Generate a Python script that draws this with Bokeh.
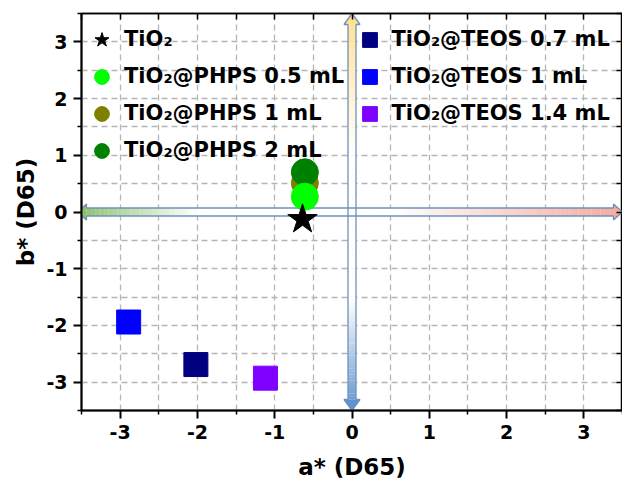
import numpy as np
from bokeh.plotting import figure
from bokeh.models import Range1d, FixedTicker, LinearAxis, Legend, LegendItem
from bokeh.embed import file_html
from bokeh.resources import INLINE

# ---- data ----
names = ["TiO₂", "TiO₂@PHPS 0.5 mL", "TiO₂@PHPS 1 mL", "TiO₂@PHPS 2 mL",
         "TiO₂@TEOS 0.7 mL", "TiO₂@TEOS 1 mL", "TiO₂@TEOS 1.4 mL"]
a_star = [-0.64, -0.61, -0.61, -0.61, -2.02, -2.89, -1.12]
b_star = [-0.13, 0.27, 0.51, 0.70, -2.69, -1.94, -2.93]
colors = ["#000000", "#00ff00", "#808000", "#008000", "#000080", "#0000ff", "#8000ff"]
markers = ["star", "circle", "circle", "circle", "square", "square", "square"]
draw_order = [2, 3, 1, 0, 4, 5, 6]
x_ticks = [-3, -2, -1, 0, 1, 2, 3]
y_ticks = [-3, -2, -1, 0, 1, 2, 3]
tick_labels = ["-3", "-2", "-1", "0", "1", "2", "3"]
minor_ticks = [-3.5, -2.5, -1.5, -0.5, 0.5, 1.5, 2.5, 3.5]
x_range = (-3.5, 3.5)
y_range = (-3.5, 3.5)

FONT = "DejaVu Sans"

p = figure(width=622, height=483, output_backend="svg", toolbar_location=None,
           x_range=Range1d(*x_range), y_range=Range1d(*y_range),
           min_border_left=81, min_border_right=0, min_border_top=13, min_border_bottom=73)
p.background_fill_color = "white"
p.border_fill_color = "white"
p.outline_line_color = "black"
p.outline_line_width = 1.5

xt = FixedTicker(ticks=x_ticks, minor_ticks=minor_ticks)
yt = FixedTicker(ticks=y_ticks, minor_ticks=minor_ticks)

for ax, t, tv in ((p.xaxis[0], xt, x_ticks), (p.yaxis[0], yt, y_ticks)):
    ax.ticker = t
    ax.major_label_overrides = {v: s for v, s in zip(tv, tick_labels)}
    ax.axis_line_width = 2
    ax.axis_line_color = "black"
    ax.major_tick_line_width = 2
    ax.minor_tick_line_width = 1.5
    ax.major_tick_in = 0
    ax.minor_tick_in = 0
    ax.major_tick_out = 8
    ax.minor_tick_out = 4
    ax.major_label_text_font = FONT
    ax.major_label_text_font_style = "bold"
    ax.major_label_text_font_size = "19px"
    ax.major_label_text_color = "black"
    ax.major_label_standoff = 6
    ax.axis_label_text_font = FONT
    ax.axis_label_text_font_style = "bold"
    ax.axis_label_text_font_size = "23px"
    ax.axis_label_text_color = "black"
p.xaxis[0].axis_label = "a* (D65)"
p.yaxis[0].axis_label = "b* (D65)"
p.xaxis[0].axis_label_standoff = 12
p.yaxis[0].axis_label_standoff = 4

# mirrored axes with inward ticks
for loc, t in (("above", xt), ("right", yt)):
    ax = LinearAxis(ticker=t)
    ax.axis_line_color = "black"
    ax.axis_line_width = 1.5
    ax.major_tick_in = 6
    ax.major_tick_out = 0
    ax.minor_tick_in = 6
    ax.minor_tick_out = 0
    ax.major_tick_line_width = 1.5
    ax.minor_tick_line_width = 1.5
    ax.major_label_text_font_size = "0px"
    ax.major_label_text_alpha = 0
    ax.major_label_standoff = 0
    p.add_layout(ax, loc)

for g, t in ((p.xgrid[0], xt), (p.ygrid[0], yt)):
    g.ticker = t
    g.grid_line_color = "#b5b5b5"
    g.grid_line_dash = "6 4"
    g.grid_line_width = 1.3
    g.minor_grid_line_color = "#b5b5b5"
    g.minor_grid_line_dash = "6 4"
    g.minor_grid_line_width = 1.3

# ---- gradient double arrows along a*=0 and b*=0 (decoration) ----
def hex2rgb(h):
    h = h.lstrip("#")
    return np.array([int(h[i:i + 2], 16) for i in (0, 2, 4)], dtype=float)

def grad(stops, t):
    pos = [s[0] for s in stops]
    cols = [hex2rgb(s[1]) for s in stops]
    out = []
    for tt in t:
        rgb = np.array([np.interp(tt, pos, [c[k] for c in cols]) for k in range(3)])
        out.append("#%02x%02x%02x" % tuple(int(round(v)) for v in rgb))
    return out

px_x = (x_range[1] - x_range[0]) / 541.0
px_y = (y_range[1] - y_range[0]) / 397.0
edge = "#7090bc"

# horizontal arrow
h_half, h_head_half, h_head_len = 4 * px_y, 8 * px_y, 9 * px_x
hx0, hx1 = x_range[0] - 4 * px_x, x_range[1]
hstops = [(0.0, "#8cc06c"), (0.22, "#ffffff"), (0.58, "#ffffff"), (1.0, "#f4aa9c")]
n = 120
edges_x = np.linspace(hx0 + h_head_len, hx1 - h_head_len, n + 1)
tmid = ((edges_x[:-1] + edges_x[1:]) / 2 - hx0) / (hx1 - hx0)
p.quad(left=edges_x[:-1], right=edges_x[1:] + 0.002, bottom=-h_half, top=h_half,
       fill_color=grad(hstops, tmid), line_color=None)
p.patch([hx0, hx0 + h_head_len, hx0 + h_head_len], [0, h_head_half, -h_head_half],
        fill_color=grad(hstops, [0.0])[0], line_color=None)
p.patch([hx1, hx1 - h_head_len, hx1 - h_head_len], [0, h_head_half, -h_head_half],
        fill_color=grad(hstops, [1.0])[0], line_color=None)

# vertical arrow
v_half, v_head_half, v_head_len = 4 * px_x, 8 * px_x, 11 * px_y
vy0, vy1 = y_range[1], y_range[0]
vstops = [(0.0, "#ffe08e"), (0.35, "#ffffff"), (0.72, "#ffffff"), (1.0, "#5f94cc")]
edges_y = np.linspace(vy0 - v_head_len, vy1 + v_head_len, n + 1)
tmid_v = (vy0 - (edges_y[:-1] + edges_y[1:]) / 2) / (vy0 - vy1)
p.quad(left=-v_half, right=v_half, top=edges_y[:-1] + 0.002, bottom=edges_y[1:],
       fill_color=grad(vstops, tmid_v), line_color=None)
p.patch([0, v_head_half, -v_head_half], [vy0, vy0 - v_head_len, vy0 - v_head_len],
        fill_color=grad(vstops, [0.0])[0], line_color=None)
p.patch([0, v_head_half, -v_head_half], [vy1, vy1 + v_head_len, vy1 + v_head_len],
        fill_color=grad(vstops, [1.0])[0], line_color=None)

# outlines
p.patch([hx0, hx0 + h_head_len, hx0 + h_head_len, hx1 - h_head_len, hx1 - h_head_len, hx1,
         hx1 - h_head_len, hx1 - h_head_len, hx0 + h_head_len, hx0 + h_head_len],
        [0, h_head_half, h_half, h_half, h_head_half, 0, -h_head_half, -h_half, -h_half, -h_head_half],
        fill_alpha=0, line_color=edge, line_width=1.3)
p.patch([0, v_head_half, v_half, v_half, v_head_half, 0, -v_head_half, -v_half, -v_half, -v_head_half],
        [vy0, vy0 - v_head_len, vy0 - v_head_len, vy1 + v_head_len, vy1 + v_head_len, vy1,
         vy1 + v_head_len, vy1 + v_head_len, vy0 - v_head_len, vy0 - v_head_len],
        fill_alpha=0, line_color=edge, line_width=1.3)

# ---- data points ----
sizes = {"star": 31, "circle": 27, "square": 24}
rends = {}
for i in draw_order:
    rends[i] = p.scatter([a_star[i]], [b_star[i]], marker=markers[i], size=sizes[markers[i]],
                         fill_color=colors[i], line_color=colors[i], line_width=1)

def make_legend(idx, loc):
    lg = Legend(items=[LegendItem(label=names[i], renderers=[rends[i]]) for i in idx],
                location=loc, orientation="vertical")
    lg.background_fill_alpha = 0
    lg.border_line_alpha = 0
    lg.padding = 2
    lg.spacing = 0
    lg.margin = 0
    lg.glyph_width = 37
    lg.glyph_height = 37
    lg.label_standoff = 4
    lg.label_text_font = FONT
    lg.label_text_font_style = "bold"
    lg.label_text_font_size = "21px"
    lg.label_text_color = "black"
    lg.label_height = 37
    return lg

p.add_layout(make_legend([0, 1, 2, 3], (0, 239.5)))
p.add_layout(make_legend([4, 5, 6], (267.5, 276.5)))

open("out.html", "w").write(file_html(p, INLINE))
